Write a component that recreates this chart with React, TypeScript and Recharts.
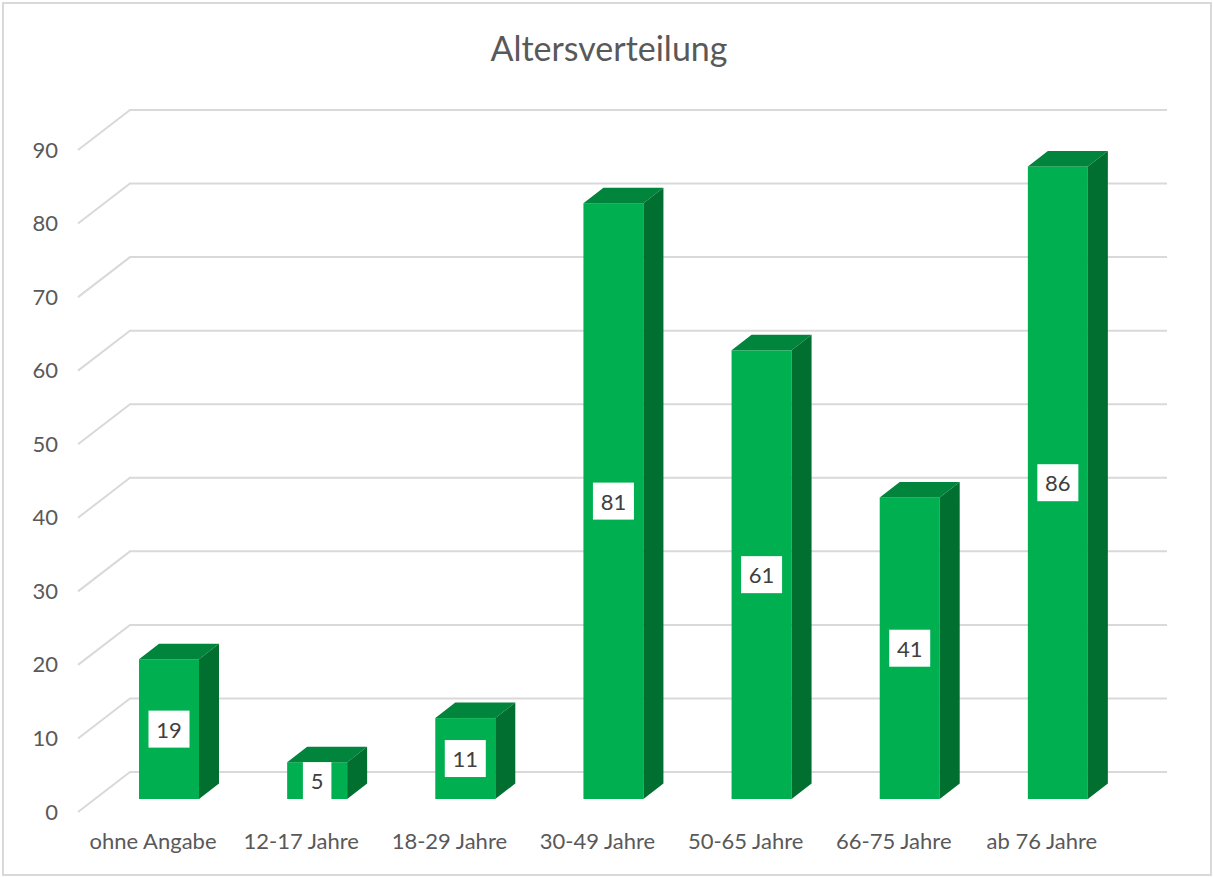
import React from 'react';
import { BarChart, Bar, XAxis, YAxis, CartesianGrid, LabelList } from 'recharts';

const categories = ['ohne Angabe', '12-17 Jahre', '18-29 Jahre', '30-49 Jahre', '50-65 Jahre', '66-75 Jahre', 'ab 76 Jahre'];
const counts = [19, 5, 11, 81, 61, 41, 86];
const yTicks = [0, 10, 20, 30, 40, 50, 60, 70, 80, 90];

const data = categories.map((name, i) => ({ name, count: counts[i] }));

// fake 3d: offsets from the bar front plane
const BAR_DX = 20;
const BAR_DY = -15.5;
const FRONT_DX = -17; // floor front edge
const FRONT_DY = 13;
const BACK_DX = 35; // back wall
const BACK_DY = -27;

const FONT = 'Lato, "Open Sans", sans-serif';
const TEXT = '#595959';

const Bar3D = (props: any) => {
  const { x, y, width: w, height: h } = props;
  if (h == null || w == null) return null;
  return (
    <g>
      <rect x={x} y={y} width={w} height={h} fill="#00B050" />
      <polygon
        points={`${x},${y} ${x + BAR_DX},${y + BAR_DY} ${x + w + BAR_DX},${y + BAR_DY} ${x + w},${y}`}
        fill="#01843c"
      />
      <polygon
        points={`${x + w},${y} ${x + w + BAR_DX},${y + BAR_DY} ${x + w + BAR_DX},${y + h + BAR_DY} ${x + w},${y + h}`}
        fill="#006f30"
      />
    </g>
  );
};

const gridLine = (props: any) => {
  const { x1, x2, y1, index } = props;
  return (
    <polyline
      key={`g-${index}-${y1}`}
      points={`${x1 + FRONT_DX},${y1 + FRONT_DY} ${x1 + BACK_DX},${y1 + BACK_DY} ${x2 + BACK_DX},${y1 + BACK_DY}`}
      fill="none"
      stroke="#d9d9d9"
      strokeWidth={2}
    />
  );
};

const ValueLabel = (props: any) => {
  const { x, y, width, height, value } = props;
  const cx = x + width / 2;
  const cy = y + height / 2;
  const bw = String(value).length * 12.5 + 16;
  return (
    <g>
      <rect x={cx - bw / 2} y={cy - 18.5} width={bw} height={37} fill="#ffffff" />
      <text x={cx} y={cy} textAnchor="middle" dominantBaseline="central" fontSize={22} fontFamily={FONT} fill="#404040">
        {value}
      </text>
    </g>
  );
};

const YTick = (props: any) => {
  const { x, y, payload } = props;
  return (
    <text x={x - 37} y={y + 12} textAnchor="end" dominantBaseline="central" fontSize={22} fontFamily={FONT} fill={TEXT}>
      {payload.value}
    </text>
  );
};

const XTick = (props: any) => {
  const { x, y, payload } = props;
  return (
    <text x={x - 16} y={y + 41} textAnchor="middle" dominantBaseline="central" fontSize={22} fontFamily={FONT} fill={TEXT}>
      {payload.value}
    </text>
  );
};

export default function App() {
  return (
    <div style={{ position: 'absolute', left: 0, top: 0, width: 1213, height: 877, background: '#fff' }}>
      <div
        style={{
          position: 'absolute',
          left: 2,
          top: 2,
          width: 1206,
          height: 870,
          border: '2px solid #d9d9d9',
        }}
      />
      <div
        style={{
          position: 'absolute',
          left: 0,
          top: 27,
          width: 1218,
          textAlign: 'center',
          fontFamily: FONT,
          fontSize: 34,
          color: TEXT,
        }}
      >
        Altersverteilung
      </div>
      <BarChart
        width={1213}
        height={877}
        data={data}
        margin={{ top: 137, right: 81, bottom: 48, left: 35 }}
        style={{ position: 'absolute', left: 0, top: 0 }}
      >
        <CartesianGrid vertical={false} horizontal={gridLine} />
        <XAxis
          dataKey="name"
          height={30}
          axisLine={false}
          tickLine={false}
          tickSize={0}
          tickMargin={0}
          tick={<XTick />}
          interval={0}
        />
        <YAxis
          width={60}
          domain={[0, 90]}
          ticks={yTicks}
          axisLine={false}
          tickLine={false}
          tickSize={0}
          tickMargin={0}
          tick={<YTick />}
        />
        <Bar dataKey="count" barSize={60} shape={<Bar3D />} isAnimationActive={false}>
          <LabelList dataKey="count" content={<ValueLabel />} />
        </Bar>
      </BarChart>
    </div>
  );
}
